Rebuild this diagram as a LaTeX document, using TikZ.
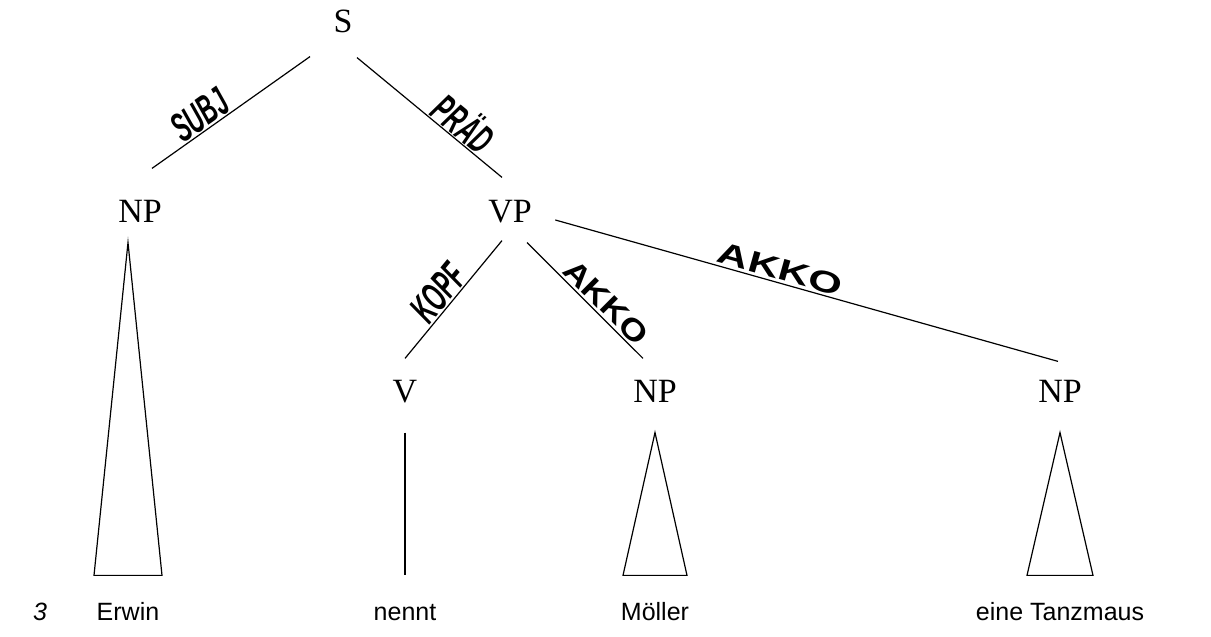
\documentclass[tikz,border=0pt]{standalone}
\usepackage{fontspec}
\usepackage{graphicx}
\setmainfont{Liberation Serif}
\setsansfont{Liberation Sans}

\tikzset{
  cat/.style={font=\fontsize{34}{38}\selectfont, text height=22pt, text depth=0pt, inner xsep=2pt, inner ysep=19pt},
  word/.style={font=\sffamily\fontsize{25}{30}\selectfont, anchor=base, text height=18pt, text depth=5pt, inner xsep=2pt, inner ysep=27pt},
  rel/.style={font=\sffamily\bfseries\itshape\fontsize{41}{46}\selectfont, inner sep=1pt, sloped, above},
  akk/.style={font=\sffamily\bfseries\fontsize{30}{34}\selectfont, inner sep=2.5pt, sloped, above},
}

\begin{document}
\begin{tikzpicture}[x=1pt,y=1pt,line width=1.2pt]
\useasboundingbox (0,0) rectangle (1211,637);
% categories
\node[cat] (S) at (343,615) {S};
\node[cat] (NP1) at (140,425) {NP};
\node[cat] (VP) at (510,425) {VP};
\node[cat] (V) at (405,245) {V};
\node[cat] (NP2) at (655,245) {NP};
\node[cat] (NP3) at (1060,245) {NP};
% words
\node[word] (num) at (40,16) {\itshape 3};
\node[word] (Erwin) at (128,16) {Erwin};
\node[word] (nennt) at (405,16) {nennt};
\node[word] (Moeller) at (655,16) {Möller};
\node[word] (Tanzmaus) at (1060,16) {eine Tanzmaus};
% edges
\draw ([xshift=-33,yshift=-4]S.south) -- node[rel, pos=0.64] {\scalebox{0.55}[1]{SUBJ}} ([xshift=12,yshift=13]NP1.north);
\draw ([xshift=14,yshift=-5]S.south) -- node[rel, pos=0.66] {\scalebox{0.56}[1]{PRÄD}} ([xshift=-8,yshift=4]VP.north);
\draw ([xshift=-8,yshift=2]VP.south) -- node[rel, pos=0.53] {\scalebox{0.55}[1]{KOPF}} ([yshift=3]V.north);
\draw ([xshift=17]VP.south) -- node[akk, pos=0.6] {\scalebox{1.2}[1]{AKKO}} ([xshift=-12,yshift=3]NP2.north);
\draw ([xshift=21,yshift=-8]VP.east) -- node[akk, pos=0.44] {\scalebox{1.45}[1]{AKKO}} ([xshift=-2]NP3.north);
% triangles
\draw (NP1.south -| Erwin.north) -- ([xshift=34]Erwin.north) -- ([xshift=-34]Erwin.north) -- cycle;
\draw ([yshift=-10]V.south) -- (nennt.north);
\draw ([yshift=-10]NP2.south) -- ([xshift=32]Moeller.north) -- ([xshift=-32]Moeller.north) -- cycle;
\draw ([yshift=-10]NP3.south) -- ([xshift=33]Tanzmaus.north) -- ([xshift=-33]Tanzmaus.north) -- cycle;
\end{tikzpicture}
\end{document}
